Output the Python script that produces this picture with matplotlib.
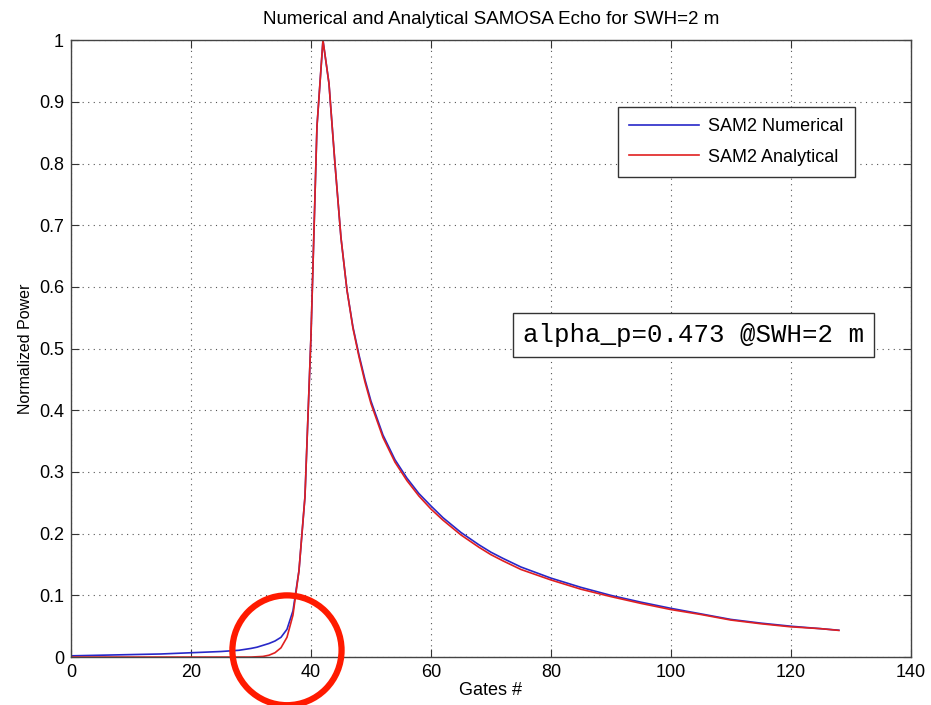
import matplotlib.pyplot as plt
from matplotlib.patches import Ellipse

# Numerical SAMOSA echo (SAM2), gate -> normalized power
gates_num = [0, 5, 10, 15, 20, 25, 28, 30, 31, 32, 33, 34, 35, 36, 37, 38, 39, 40, 41,
             42, 43, 44, 45, 46, 47, 48, 49, 50, 52, 54, 56, 58, 60, 62, 65, 68, 70, 72,
             75, 80, 85, 90, 95, 100, 105, 110, 115, 120, 125, 128]
power_num = [0.002, 0.003, 0.004, 0.005, 0.007, 0.009, 0.011, 0.014, 0.016, 0.019, 0.022,
             0.026, 0.032, 0.045, 0.075, 0.14, 0.26, 0.52, 0.86,
             1.0, 0.93, 0.80, 0.68, 0.595, 0.535, 0.49, 0.45, 0.415, 0.36, 0.32, 0.29,
             0.265, 0.245, 0.226, 0.202, 0.182, 0.170, 0.160,
             0.146, 0.128, 0.113, 0.100, 0.089, 0.079, 0.070, 0.061, 0.055, 0.050, 0.046, 0.0435]

# Analytical SAMOSA echo (SAM2)
gates_ana = [0, 10, 20, 30, 31, 32, 33, 34, 35, 36, 37, 38, 39, 40, 41,
             42, 43, 44, 45, 46, 47, 48, 49, 50, 52, 54, 56, 58, 60, 62, 65, 68, 70, 72,
             75, 80, 85, 90, 95, 100, 105, 110, 115, 120, 125, 128]
power_ana = [0.0, 0.0, 0.0, 0.0, 0.0005, 0.001, 0.003, 0.007, 0.015, 0.032, 0.068, 0.14,
             0.26, 0.52, 0.86,
             1.0, 0.93, 0.80, 0.68, 0.595, 0.533, 0.487, 0.446, 0.411, 0.356, 0.316, 0.286,
             0.261, 0.240, 0.222, 0.198, 0.178, 0.166, 0.156,
             0.142, 0.125, 0.110, 0.098, 0.087, 0.077, 0.069, 0.060, 0.054, 0.049, 0.046, 0.0432]

plt.rcParams['font.family'] = ['Liberation Sans', 'DejaVu Sans']

fig = plt.figure(figsize=(9.31, 7.05), dpi=100)
ax = fig.add_axes([0.0763, 0.068, 0.902, 0.875])

ax.plot(gates_num, power_num, color='#2828c8', lw=1.2, label='SAM2 Numerical')
ax.plot(gates_ana, power_ana, color='#e02020', lw=1.2, label='SAM2 Analytical')

ax.set_xlim(0, 140)
ax.set_ylim(0, 1)
ax.set_xticks(range(0, 141, 20))
ax.set_yticks([i / 10 for i in range(11)])
ax.set_yticklabels(['0'] + ['0.%d' % i for i in range(1, 10)] + ['1'])
ax.grid(True, linestyle=(0, (1, 4)), color='#555555', lw=0.8)
ax.tick_params(direction='in', top=True, right=True, labelsize=13, length=6,
               color='#333333', pad=5)
for s in ax.spines.values():
    s.set_color('#444444')
    s.set_linewidth(1.0)

ax.set_title('Numerical and Analytical SAMOSA Echo for SWH=2 m', fontsize=13.5, pad=12)
ax.set_xlabel('Gates #', fontsize=13, labelpad=1)
ax.set_ylabel('Normalized Power', fontsize=11.5, labelpad=4)

leg = ax.legend(loc='upper right', bbox_to_anchor=(0.933, 0.891), borderaxespad=0,
                fontsize=13, fancybox=False, framealpha=1, edgecolor='#333333',
                handlelength=3.9, borderpad=0.6, labelspacing=0.75, handletextpad=0.5)
leg.get_frame().set_linewidth(1.0)

ax.text(0.944, 0.522, 'alpha_p=0.473 @SWH=2 m', transform=ax.transAxes,
        ha='right', va='center', family='Liberation Mono', fontsize=18.5,
        bbox=dict(boxstyle='square,pad=0.38', fc='white', ec='#333333', lw=1.0))

# highlight where the two leading edges separate
ax.add_patch(Ellipse((36, 0.011), 18.2, 0.178, fill=False, ec='#ff1a00', lw=4.5,
                     clip_on=False, zorder=5))

fig.savefig('out.png', dpi=100)
